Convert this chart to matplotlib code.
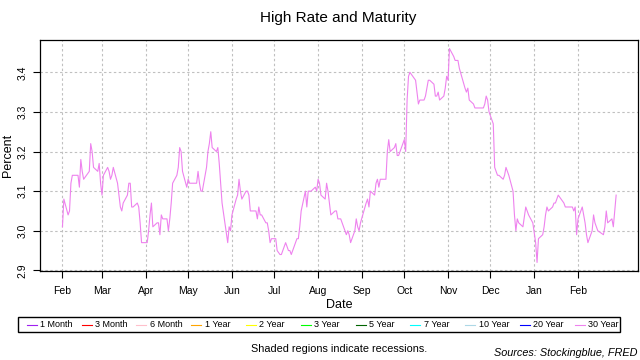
import numpy as np
import pandas as pd
import matplotlib
matplotlib.use('Agg')
import matplotlib.pyplot as plt
import matplotlib.dates as mdates
from matplotlib.lines import Line2D
from matplotlib.patches import Rectangle
from pandas.tseries.holiday import USFederalHolidayCalendar
from pandas.tseries.offsets import CustomBusinessDay

plt.rcParams['font.family'] = ['Liberation Sans', 'DejaVu Sans']

# 30 year rate, one value per trading day
feb18 = [3.01, 3.08, 3.04, 3.05, 3.12, 3.14, 3.14, 3.14, 3.11, 3.18, 3.15, 3.13, 3.15, 3.22, 3.20,
         3.16, 3.15, 3.17, 3.12]
mar18 = [3.09, 3.14, 3.16, 3.15, 3.13, 3.14, 3.16, 3.12, 3.09, 3.06, 3.05, 3.07, 3.09, 3.12, 3.12,
         3.06, 3.06, 3.07, 3.06, 3.02, 2.97, 2.97]
apr18 = [2.97, 3.00, 3.04, 3.07, 3.01, 3.02, 3.02, 2.99, 3.04, 3.03, 3.03, 3.00, 3.03, 3.07, 3.12,
         3.14, 3.16, 3.21, 3.20, 3.15, 3.11]
may18 = [3.13, 3.12, 3.12, 3.12, 3.12, 3.15, 3.12, 3.10, 3.10, 3.16, 3.20, 3.22, 3.25, 3.21, 3.20,
         3.21, 3.17, 3.12, 3.07, 2.97, 3.01, 3.00]
jun18 = [3.04, 3.08, 3.09, 3.13, 3.10, 3.08, 3.10, 3.10, 3.09, 3.05, 3.05, 3.05, 3.03, 3.06, 3.04,
         3.04, 3.02, 3.02, 3.00, 2.97, 2.98]
jul18 = [2.98, 2.95, 2.94, 2.94, 2.97, 2.96, 2.95, 2.95, 2.94, 2.97, 2.98, 2.98, 3.01, 3.05, 3.10,
         3.06, 3.10, 3.10, 3.10, 3.11, 3.10]
aug18 = [3.13, 3.12, 3.09, 3.08, 3.12, 3.10, 3.07, 3.04, 3.05, 3.05, 3.03, 3.03, 3.03, 3.00, 2.99,
         3.00, 2.99, 2.97, 3.00, 3.03, 3.01, 3.00, 3.02]
sep18 = [3.07, 3.08, 3.06, 3.10, 3.09, 3.12, 3.13, 3.11, 3.13, 3.13, 3.13, 3.20, 3.23, 3.20, 3.21,
         3.22, 3.19, 3.19, 3.20]
oct18 = [3.23, 3.20, 3.33, 3.39, 3.40, 3.38, 3.35, 3.32, 3.33, 3.33, 3.34, 3.36, 3.38, 3.38, 3.37,
         3.34, 3.34, 3.35, 3.33, 3.34, 3.36, 3.39]
nov18 = [3.38, 3.46, 3.44, 3.43, 3.43, 3.43, 3.41, 3.36, 3.35, 3.36, 3.33, 3.32, 3.31, 3.31, 3.31,
         3.31, 3.32, 3.34, 3.33, 3.30]
dec18 = [3.27, 3.16, 3.15, 3.14, 3.14, 3.13, 3.14, 3.16, 3.15, 3.14, 3.10, 3.04, 3.00, 3.03, 3.02,
         3.01, 3.06, 3.05, 3.04, 3.02]
jan19 = [2.97, 2.92, 2.98, 2.99, 3.01, 3.04, 3.06, 3.05, 3.06, 3.07, 3.07, 3.08, 3.09, 3.07, 3.06,
         3.06, 3.06, 3.06, 3.05, 3.06, 2.99]
feb19 = [3.03, 3.06, 3.04, 3.02, 2.99, 2.97, 3.00, 3.04, 3.02, 3.01, 3.00, 2.99, 3.01, 3.05, 3.02,
         3.03, 3.01, 3.05, 3.09]

rates = feb18 + mar18 + apr18 + may18 + jun18 + jul18 + aug18 + sep18 + oct18 + nov18 + dec18 + jan19 + feb19

bday = CustomBusinessDay(calendar=USFederalHolidayCalendar())
dates = pd.date_range('2018-02-01', '2019-02-28', freq=bday)
n = min(len(dates), len(rates))
dates = dates[:n]
rates = np.array(rates[:n])

month_ticks = pd.date_range('2018-02-01', '2019-02-01', freq='MS')

legend_labels = ['1 Month', '3 Month', '6 Month', '1 Year', '2 Year', '3 Year',
                 '5 Year', '7 Year', '10 Year', '20 Year', '30 Year']
legend_colors = ['#A020F0', '#FF0000', '#FFC0CB', '#FFA500', '#FFFF00', '#00FF00',
                 '#006400', '#00FFFF', '#ADD8E6', '#0000FF', '#EE82EE']

W, H = 640, 360
fig = plt.figure(figsize=(W / 100, H / 100), dpi=100, facecolor='white')
ax = fig.add_axes([40.3 / W, 1 - 271 / H, (638.3 - 40.3) / W, (271 - 40) / H])

x = mdates.date2num(dates)
ax.plot(x, rates, color='#EE82EE', lw=0.8, zorder=3)

# R style 4% padding
xr = x.max() - x.min()
ax.set_xlim(x.min() - 0.04 * xr, x.max() + 0.04 * xr)
yr = rates.max() - rates.min()
ax.set_ylim(rates.min() - 0.04 * yr, rates.max() + 0.04 * yr)

xt = mdates.date2num(month_ticks)
ax.set_xticks(xt)
ax.set_xticklabels([d.strftime('%b') for d in month_ticks])
yt = [2.9, 3.0, 3.1, 3.2, 3.3, 3.4]
ax.set_yticks(yt)
ax.set_yticklabels(['%.1f' % v for v in yt], rotation=90, va='center')

ax.tick_params(axis='both', direction='out', length=5, width=0.8, labelsize=7.5, color='black')
ax.tick_params(axis='x', pad=6)
ax.tick_params(axis='y', pad=4)

ax.grid(True, color='#c0c0c0', linestyle=(0, (2.2, 2.2)), lw=0.8)
ax.set_axisbelow(True)
for s in ax.spines.values():
    s.set_linewidth(0.9)
    s.set_color('black')

ax.set_xlabel('Date', fontsize=9, labelpad=2)
ax.set_ylabel('Percent', fontsize=9, labelpad=3)
fig.text(338.5 / W, 1 - 18 / H, 'High Rate and Maturity', ha='center', va='center', fontsize=11)


def fx(px):
    return px / W


def fy(py):
    return 1 - py / H


# legend row (horizontal, R style)
fig.add_artist(Rectangle((fx(18.3), fy(332.3)), fx(620) - fx(18.3), fy(317.3) - fy(332.3),
                         transform=fig.transFigure, fill=False, edgecolor='black', lw=1.0))
ly = 324.8
for i, (lab, col) in enumerate(zip(legend_labels, legend_colors)):
    x0 = 26.7 + i * 54.8
    fig.add_artist(Line2D([fx(x0), fx(x0 + 10)], [fy(ly), fy(ly)], transform=fig.transFigure,
                          color=col, lw=0.8))
    fig.text(fx(x0 + 13.5), fy(ly), lab, ha='left', va='center', fontsize=6.5)

fig.text(338.7 / W, fy(349.3), 'Shaded regions indicate recessions.', ha='center', va='center',
         fontsize=7.8)
fig.text(638 / W, fy(352.7), 'Sources: Stockingblue, FRED', ha='right', va='center',
         fontsize=7.8, style='italic')

fig.savefig('out.png', dpi=100)
